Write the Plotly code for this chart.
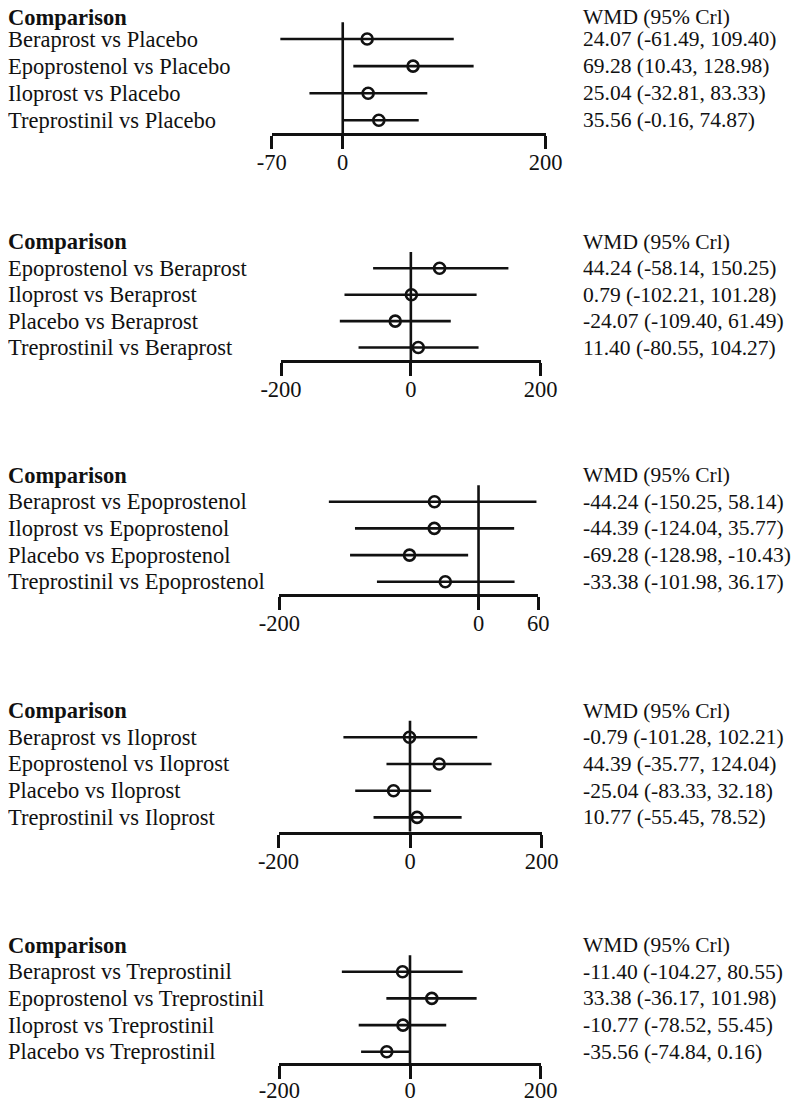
import plotly.graph_objects as go

# ---------------- data ----------------
p1_labels = ["Beraprost vs Placebo", "Epoprostenol vs Placebo", "Iloprost vs Placebo", "Treprostinil vs Placebo"]
p1_wmd = [24.07, 69.28, 25.04, 35.56]
p1_low = [-61.49, 10.43, -32.81, -0.16]
p1_high = [109.40, 128.98, 83.33, 74.87]
p1_ticks = [-70, 0, 200]

p2_labels = ["Epoprostenol vs Beraprost", "Iloprost vs Beraprost", "Placebo vs Beraprost", "Treprostinil vs Beraprost"]
p2_wmd = [44.24, 0.79, -24.07, 11.40]
p2_low = [-58.14, -102.21, -109.40, -80.55]
p2_high = [150.25, 101.28, 61.49, 104.27]
p2_ticks = [-200, 0, 200]

p3_labels = ["Beraprost vs Epoprostenol", "Iloprost vs Epoprostenol", "Placebo vs Epoprostenol", "Treprostinil vs Epoprostenol"]
p3_wmd = [-44.24, -44.39, -69.28, -33.38]
p3_low = [-150.25, -124.04, -128.98, -101.98]
p3_high = [58.14, 35.77, -10.43, 36.17]
p3_ticks = [-200, 0, 60]

p4_labels = ["Beraprost vs Iloprost", "Epoprostenol vs Iloprost", "Placebo vs Iloprost", "Treprostinil vs Iloprost"]
p4_wmd = [-0.79, 44.39, -25.04, 10.77]
p4_low = [-101.28, -35.77, -83.33, -55.45]
p4_high = [102.21, 124.04, 32.18, 78.52]
p4_ticks = [-200, 0, 200]

p5_labels = ["Beraprost vs Treprostinil", "Epoprostenol vs Treprostinil", "Iloprost vs Treprostinil", "Placebo vs Treprostinil"]
p5_wmd = [-11.40, 33.38, -10.77, -35.56]
p5_low = [-104.27, -36.17, -78.52, -74.84]
p5_high = [80.55, 101.98, 55.45, 0.16]
p5_ticks = [-200, 0, 200]

header_left = "Comparison"
header_right = "WMD (95% Crl)"

panels = [
    (p1_labels, p1_wmd, p1_low, p1_high, p1_ticks),
    (p2_labels, p2_wmd, p2_low, p2_high, p2_ticks),
    (p3_labels, p3_wmd, p3_low, p3_high, p3_ticks),
    (p4_labels, p4_wmd, p4_low, p4_high, p4_ticks),
    (p5_labels, p5_wmd, p5_low, p5_high, p5_ticks),
]

# ---------------- layout geometry ----------------
# The page body has a default 8px margin, so the figure is sized to fit the
# 800x1100 window and all page positions are shifted by that offset.
OFF = 8
W, H = 800 - OFF, 1100 - OFF


def fx(p):
    return p - OFF


def fy(p):
    return p - OFF


# (first row y, row spacing, axis line y, axis left x, axis right x) in page pixels
geom = [
    (39.0, 27.1, 133.3, 271.7, 545.7),
    (268.3, 26.4, 360.0, 281.0, 540.7),
    (501.7, 26.7, 594.0, 279.3, 538.3),
    (737.3, 26.7, 831.7, 278.5, 541.5),
    (971.7, 26.7, 1063.3, 279.3, 540.7),
]
TOP_IDX = -1.6          # top of y-range in row units (above header)
ZERO_TOP_IDX = -0.62    # top of the zero reference line
LEFT_X = 0.0
RIGHT_X = fx(583.0)

FONT = "Liberation Serif, Times New Roman, serif"
FS_L = 22.5
FS_R = 21.5
FS_T = 22.5
INK = "#111111"
LW = 2.6

fig = go.Figure()
layout = dict(
    width=W, height=H,
    margin=dict(l=0, r=0, t=0, b=0, pad=0, autoexpand=False),
    paper_bgcolor="white", plot_bgcolor="white",
    showlegend=False,
    font=dict(family=FONT, size=FS_L, color=INK),
)
annotations = []
shapes = []

for i, ((labels, wmd, low, high, ticks), (row0, sp, axy, xl, xr)) in enumerate(zip(panels, geom)):
    n = i + 1
    xa = "x" if n == 1 else f"x{n}"
    ya = "y" if n == 1 else f"y{n}"
    xkey = "xaxis" if n == 1 else f"xaxis{n}"
    ykey = "yaxis" if n == 1 else f"yaxis{n}"

    r0 = fy(row0)
    ay = fy(axy)
    bottom_idx = (ay - r0) / sp
    top_px = max(0.0, r0 + TOP_IDX * sp)
    top_idx = (top_px - r0) / sp
    rows = list(range(len(labels)))

    fig.add_trace(go.Scatter(
        x=wmd, y=rows, xaxis=xa, yaxis=ya, mode="markers",
        marker=dict(symbol="circle-open", size=11, color=INK, line=dict(width=2.6, color=INK)),
        error_x=dict(type="data", symmetric=False,
                     array=[h - w for h, w in zip(high, wmd)],
                     arrayminus=[w - l for w, l in zip(wmd, low)],
                     width=0, thickness=LW, color=INK),
        cliponaxis=False, hoverinfo="skip",
    ))

    layout[xkey] = dict(
        domain=[fx(xl) / W, fx(xr) / W], range=[ticks[0], ticks[-1]], anchor=ya,
        showline=True, linecolor=INK, linewidth=LW, mirror=False,
        ticks="outside", ticklen=13, tickwidth=LW, tickcolor=INK,
        tickvals=ticks, ticktext=[str(t) for t in ticks],
        tickfont=dict(family=FONT, size=FS_T, color=INK),
        ticklabelstandoff=-6 if n < 5 else -8,
        showgrid=False, zeroline=False, fixedrange=True, automargin=False,
    )
    layout[ykey] = dict(
        domain=[1 - ay / H, min(1.0, 1 - top_px / H)], range=[bottom_idx, top_idx], anchor=xa,
        visible=False, showgrid=False, zeroline=False, fixedrange=True, automargin=False,
    )

    # zero reference line
    shapes.append(dict(type="line", xref=xa, yref=ya, x0=0, x1=0,
                       y0=bottom_idx, y1=ZERO_TOP_IDX, layer="below",
                       line=dict(color=INK, width=LW)))

    # header texts (kept inside the figure at the very top)
    hdr_px = r0 - sp
    if hdr_px - 13 < 0:
        hdr_kw = dict(yref="paper", y=1.0, yanchor="top", yshift=3)
    else:
        hdr_kw = dict(yref=ya, y=-1, yanchor="middle")
    annotations.append(dict(text=f"<b>{header_left}</b>", xref="paper", x=LEFT_X / W, xanchor="left",
                            showarrow=False, borderpad=0, borderwidth=0,
                            font=dict(family=FONT, size=FS_L, color=INK), **hdr_kw))
    annotations.append(dict(text=header_right, xref="paper", x=RIGHT_X / W, xanchor="left",
                            showarrow=False, borderpad=0, borderwidth=0,
                            font=dict(family=FONT, size=FS_R, color=INK), **hdr_kw))
    for r, lab, w, l, h in zip(rows, labels, wmd, low, high):
        annotations.append(dict(text=lab, xref="paper", x=LEFT_X / W, xanchor="left",
                                yref=ya, y=r, yanchor="middle", showarrow=False,
                                borderpad=0, borderwidth=0,
                                font=dict(family=FONT, size=FS_L, color=INK)))
        annotations.append(dict(text=f"{w:.2f} ({l:.2f}, {h:.2f})", xref="paper", x=RIGHT_X / W,
                                xanchor="left", yref=ya, y=r, yanchor="middle", showarrow=False,
                                borderpad=0, borderwidth=0,
                                font=dict(family=FONT, size=FS_R, color=INK)))

layout["annotations"] = annotations
layout["shapes"] = shapes
fig.update_layout(**layout)
fig.write_html("out.html")
